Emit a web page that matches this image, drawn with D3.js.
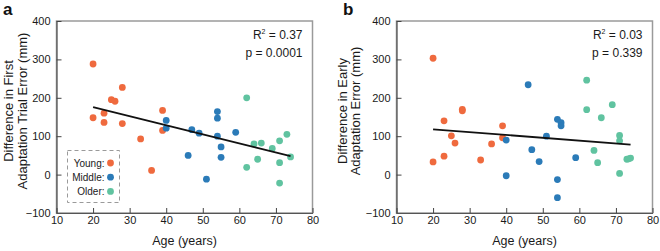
<!DOCTYPE html>
<html>
<head>
<meta charset="utf-8">
<script src="https://cdn.jsdelivr.net/npm/d3@7"></script>
<style>
  html, body { margin: 0; padding: 0; background: #fff; }
  svg { display: block; font-family: "Liberation Sans", Arial, sans-serif; }
</style>
</head>
<body>
<svg id="chart" width="660" height="251"></svg>
<script>
// ---------- data ----------
const groups = ["Young", "Middle", "Older"];
const xTicks = [10, 20, 30, 40, 50, 60, 70, 80];
const yTicks = [-100, 0, 100, 200, 300, 400];

// Panel a: Difference in First Adaptation Trial Error (mm)
const aYoungAge  = [20, 20, 23, 23, 25, 26, 28, 28, 33, 36, 39, 39];
const aYoungVal  = [288, 148, 160, 136, 195, 191, 227, 133, 93, 11, 167, 115];
const aMiddleAge = [40, 40, 46, 47, 49, 51, 54, 54, 54, 55, 55, 59];
const aMiddleVal = [141, 121, 50, 117, 108, -12, 164, 147, 100, 72, 45, 110];
const aOlderAge  = [62, 62, 64, 65, 66, 69, 71, 71, 71, 73, 74];
const aOlderVal  = [200, 19, 80, 40, 82, 68, 88, 31, -22, 105, 46];
const aFitAge = [20, 74];
const aFitVal = [176, 48];
const aStats = ["0.37", "0.0001"];

// Panel b: Difference in Early Adaptation Error (mm)
const bYoungAge  = [20, 20, 23, 23, 25, 26, 28, 28, 33, 36, 39, 39];
const bYoungVal  = [303, 33, 140, 48, 101, 82, 170, 166, 38, 80, 127, 96];
const bMiddleAge = [40, 40, 46, 47, 49, 51, 54, 54, 54, 55, 55, 59];
const bMiddleVal = [90, -3, 234, 65, 34, 100, 144, -13, -60, 135, 127, 44];
const bOlderAge  = [62, 62, 64, 65, 66, 69, 71, 71, 71, 73, 73.5, 74];
const bOlderVal  = [246, 169, 63, 31, 148, 182, 102, 88, 3, 40, 41, 43];
const bFitAge = [20, 74];
const bFitVal = [118, 78];
const bStats = ["0.03", "0.339"];

// ---------- style ----------
const groupColors = ["#EF6A3E", "#2B7BB8", "#60C3A0"];

const svg = d3.select("#chart");

function zipPts(ages, vals) { return ages.map((a, i) => ({ age: a, val: vals[i] })); }

function drawPanel(opts) {
  const { left, right, top, bottom, letter, letterX, titleLines, titleX, groupsData, fitAge, fitVal, stats, legend } = opts;
  const x = d3.scaleLinear().domain([10, 80]).range([left, right]);
  const y = d3.scaleLinear().domain([-100, 400]).range([bottom, top]);
  const g = svg.append("g");

  g.append("rect")
    .attr("x", left).attr("y", top)
    .attr("width", right - left).attr("height", bottom - top)
    .attr("fill", "none").attr("stroke", "#9a9a9a").attr("stroke-width", 1.5);

  const yAxis = d3.axisLeft(y).tickValues(yTicks).tickSizeInner(-5).tickSizeOuter(0).tickPadding(6);
  const xAxis = d3.axisBottom(x).tickValues(xTicks).tickSizeInner(-5).tickSizeOuter(0).tickPadding(3);
  const ya = g.append("g").attr("transform", `translate(${left},0)`).call(yAxis);
  const xa = g.append("g").attr("transform", `translate(0,${bottom})`).call(xAxis);
  [ya, xa].forEach(a => {
    a.select(".domain").attr("stroke", "#555").attr("stroke-width", 1.2);
    a.selectAll(".tick line").attr("stroke", "#444");
    a.selectAll(".tick text").attr("fill", "#1a1a1a").style("font-size", "11px")
      .style("font-family", "Liberation Sans, Arial, sans-serif");
  });

  svg.append("text")
    .attr("x", (left + right) / 2).attr("y", 245)
    .attr("text-anchor", "middle").attr("fill", "#1a1a1a")
    .style("font-size", "12.5px").text("Age (years)");
  const cy = 111;
  titleLines.forEach((t, i) => {
    svg.append("text")
      .attr("transform", `translate(${titleX[i]},${cy}) rotate(-90)`)
      .attr("text-anchor", "middle").attr("fill", "#1a1a1a")
      .style("font-size", "13px").text(t);
  });

  svg.append("text").attr("x", letterX).attr("y", 15)
    .style("font-size", "17px").style("font-weight", "bold").attr("fill", "#111").text(letter);

  groupsData.forEach((pts, gi) => {
    g.append("g").selectAll("circle").data(pts).join("circle")
      .attr("cx", d => x(d.age)).attr("cy", d => y(d.val))
      .attr("r", 3.4).attr("fill", groupColors[gi]);
  });

  const fit = zipPts(fitAge, fitVal);
  g.append("path").datum(fit)
    .attr("d", d3.line().x(d => x(d.age)).y(d => y(d.val)))
    .attr("stroke", "#111").attr("stroke-width", 1.8).attr("fill", "none");

  const sx = right - 10;
  const r2 = g.append("text").attr("x", sx).attr("y", 38.5).attr("text-anchor", "end")
    .attr("fill", "#1a1a1a").style("font-size", "12px");
  r2.append("tspan").text("R");
  r2.append("tspan").attr("dy", -4.5).style("font-size", "7px").text("2");
  r2.append("tspan").attr("dy", 4.5).text(" = " + stats[0]);
  g.append("text").attr("x", sx).attr("y", 56.5).attr("text-anchor", "end")
    .attr("fill", "#1a1a1a").style("font-size", "12px").text("p = " + stats[1]);

  if (legend) {
    g.append("rect").attr("x", 67.5).attr("y", 150.5).attr("width", 52).attr("height", 52)
      .attr("fill", "#fff").attr("stroke", "#9a9a9a").attr("stroke-width", 1)
      .attr("stroke-dasharray", "4,3");
    groups.forEach((name, gi) => {
      const yy = 163 + gi * 14.2;
      g.append("text").attr("x", 104.5).attr("y", yy + 3.6).attr("text-anchor", "end")
        .attr("fill", "#1a1a1a").style("font-size", "10px").text(name + ":");
      g.append("circle").attr("cx", 110.5).attr("cy", yy).attr("r", 3.4).attr("fill", groupColors[gi]);
    });
  }
}

drawPanel({
  left: 56.5, right: 312.5, top: 21, bottom: 213,
  letter: "a", letterX: 3,
  titleLines: ["Difference in First", "Adaptation Trial Error (mm)"],
  titleX: [13, 26.5],
  groupsData: [zipPts(aYoungAge, aYoungVal), zipPts(aMiddleAge, aMiddleVal), zipPts(aOlderAge, aOlderVal)],
  fitAge: aFitAge, fitVal: aFitVal, stats: aStats, legend: true
});

drawPanel({
  left: 396.5, right: 652.5, top: 21, bottom: 213,
  letter: "b", letterX: 343,
  titleLines: ["Difference in Early", "Adaptation Error (mm)"],
  titleX: [347, 360],
  groupsData: [zipPts(bYoungAge, bYoungVal), zipPts(bMiddleAge, bMiddleVal), zipPts(bOlderAge, bOlderVal)],
  fitAge: bFitAge, fitVal: bFitVal, stats: bStats, legend: false
});
</script>
</body>
</html>
